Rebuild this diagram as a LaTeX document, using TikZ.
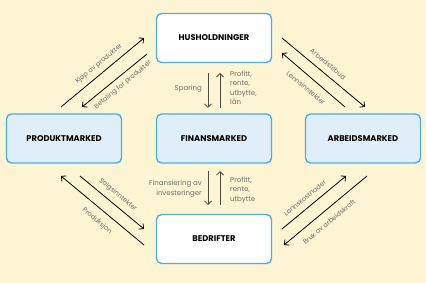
\documentclass[tikz,border=0pt]{standalone}
\usepackage{fontspec}
\setmainfont{Poppins}
\usetikzlibrary{arrows.meta}
\definecolor{bg}{RGB}{253,244,211}
\definecolor{bblue}{RGB}{74,174,234}
\definecolor{lblue}{RGB}{224,238,250}
\definecolor{vgray}{RGB}{80,76,66}
\definecolor{tgray}{RGB}{112,110,104}
\begin{document}
\begin{tikzpicture}[x=1pt,y=-1pt,
  box/.style={draw=bblue, line width=1.4pt, rounded corners=5pt, minimum width=115pt, minimum height=49pt, inner sep=0pt, font=\fontsize{8.3}{9}\selectfont\bfseries, text=black},
  arr/.style={line width=0.8pt, -{Straight Barb[length=3.5pt,width=7pt,line width=0.8pt]}},
  varr/.style={arr, draw=vgray},
  lbl/.style={font=\fontsize{6.6}{7}\selectfont, text=tgray, inner sep=0pt},
  vlbl/.style={font=\fontsize{7}{9.5}\selectfont, text=tgray, inner sep=0pt}
]
\fill[bg] (0,0) rectangle (426,283);
\useasboundingbox (0,0) rectangle (426,283);

\node[box, fill=white] (hus) at (214,38) {HUSHOLDNINGER};
\node[box, fill=lblue] (prod) at (64,138.5) {PRODUKTMARKED};
\node[box, fill=lblue] (fin) at (214,138.5) {FINANSMARKED};
\node[box, fill=lblue] (arb) at (363,138.5) {ARBEIDSMARKED};
\node[box, fill=white] (bed) at (214,239) {BEDRIFTER};

% top-left
\coordinate (k1) at (61,107); \coordinate (k2) at (144,38);
\coordinate (b1) at (147,54); \coordinate (b2) at (82,107);
\draw[arr] (k1) -- (k2);
\draw[arr] (b1) -- (b2);
\node[lbl, rotate=39.7] (lk) at (99,64) {Kjøp av produkter};
\node[lbl, rotate=39.7] (lb) at (123,85) {Betaling for produkter};

% top-right
\coordinate (a1) at (282,38); \coordinate (a2) at (365,107);
\coordinate (l1) at (345,107); \coordinate (l2) at (282,53);
\draw[arr] (a1) -- (a2);
\draw[arr] (l1) -- (l2);
\node[lbl, rotate=-39.7] (la) at (328,64) {Arbeidstilbud};
\node[lbl, rotate=-39.7] (ll) at (306,88) {Lønnsinntekter};

% bottom-left
\coordinate (s1) at (80,176); \coordinate (s2) at (144,229);
\coordinate (p1) at (144,245); \coordinate (p2) at (61,176);
\draw[arr] (s1) -- (s2);
\draw[arr] (p1) -- (p2);
\node[lbl, rotate=-39.7] (ls) at (118,195) {Salgsinntekter};
\node[lbl, rotate=-39.7] (lp) at (97,221) {Produksjon};

% bottom-right
\coordinate (c1) at (282,229); \coordinate (c2) at (346,176);
\coordinate (r1) at (367,176); \coordinate (r2) at (284,245);
\draw[arr] (c1) -- (c2);
\draw[arr] (r1) -- (r2);
\node[lbl, rotate=39.7] (lc) at (305,198) {Lønnskostnader};
\node[lbl, rotate=39.7] (lr) at (329,222) {Bruk av arbeidskraft};

% vertical top
\coordinate (v1) at (208,73); \coordinate (v2) at (208,108);
\coordinate (v3) at (220,108); \coordinate (v4) at (220,73);
\draw[varr] (v1) -- (v2);
\draw[varr] (v3) -- (v4);
\node[vlbl, anchor=east] (lsp) at (202,89) {Sparing};
\node[vlbl, anchor=north west, align=left] (lpr) at (230,70.5) {Profitt,\\rente,\\utbytte,\\lån};

% vertical bottom
\coordinate (w1) at (208,171); \coordinate (w2) at (208,205);
\coordinate (w3) at (220,205); \coordinate (w4) at (220,171);
\draw[varr] (w1) -- (w2);
\draw[varr] (w3) -- (w4);
\node[vlbl, anchor=east, align=right] (lfi) at (202,189) {Finansiering av\\investeringer};
\node[vlbl, anchor=north west, align=left] (lpr2) at (230,176.5) {Profitt,\\rente,\\utbytte};
\end{tikzpicture}
\end{document}
